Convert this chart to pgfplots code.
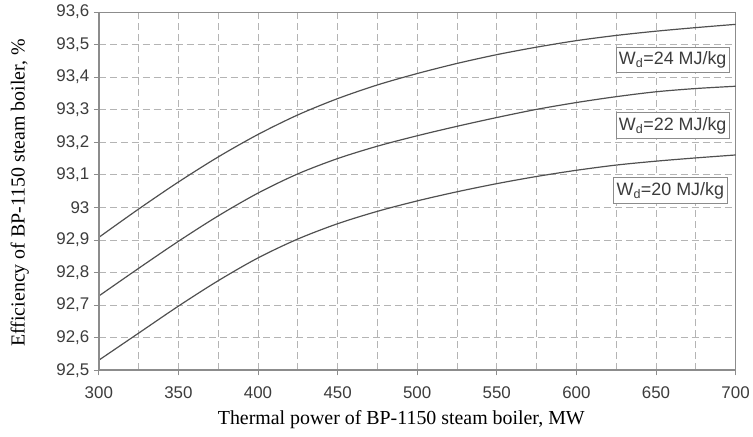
\documentclass[border=0pt]{standalone}
\usepackage{fontspec}
\setmainfont{Liberation Sans}
\newfontfamily\serifx{Liberation Serif}
\usepackage{pgfplots}
\pgfplotsset{compat=1.18}
\definecolor{gridc}{HTML}{B4B4B4}
\definecolor{axc}{HTML}{8C8C8C}
\definecolor{curvec}{HTML}{505050}
\definecolor{txtc}{HTML}{3C3C3C}
\begin{document}
\begin{tikzpicture}
\begin{axis}[
  scale only axis, width=638bp, height=359bp,
  xmin=300, xmax=700, ymin=92.5, ymax=93.6,
  xtick={300,350,400,450,500,550,600,650,700},
  minor xtick={325,375,425,475,525,575,625,675},
  ytick={92.5,92.6,92.7,92.8,92.9,93,93.1,93.2,93.3,93.4,93.5,93.6},
  yticklabels={92{,}5,92{,}6,92{,}7,92{,}8,92{,}9,93,93{,}1,93{,}2,93{,}3,93{,}4,93{,}5,93{,}6},
  xtick pos=bottom, ytick pos=left,
  tick align=outside, major tick length=5bp, minor tick length=0pt,
  every tick/.style={draw=axc, line width=0.8bp},
  grid=both,
  major grid style={draw=gridc, line width=0.9bp, dash pattern=on 7bp off 4bp},
  minor grid style={draw=gridc, line width=0.9bp, dash pattern=on 7bp off 4bp},
  axis line style={draw=axc, line width=0.8bp},
  /pgf/number format/assume math mode=true,
  tick label style={font=\fontsize{17}{20}\selectfont, text=txtc},
  xticklabel style={yshift=-8bp},
  yticklabel style={xshift=-1bp},
  xlabel={Thermal power of BP-1150 steam boiler, MW},
  ylabel={Efficiency of BP-1150 steam boiler, \%},
  label style={font=\serifx\fontsize{20}{24}\selectfont, text=black},
  xlabel style={at={(axis description cs:0.475,-0.1504)}, anchor=base},
  ylabel style={at={(axis description cs:-0.124,0.495)}, anchor=center},
  clip=false,
]
\addplot[curvec, line width=1.2bp, smooth] coordinates {
(300,92.908) (325,92.995) (350,93.078) (375,93.155) (400,93.224) (425,93.284)
(450,93.334) (475,93.376) (500,93.411) (525,93.442) (550,93.469) (575,93.492)
(600,93.512) (625,93.528) (650,93.541) (675,93.552) (700,93.562)};
\addplot[curvec, line width=1.2bp, smooth] coordinates {
(300,92.728) (325,92.813) (350,92.896) (375,92.974) (400,93.044) (425,93.103)
(450,93.150) (475,93.188) (500,93.220) (525,93.249) (550,93.276) (575,93.301)
(600,93.322) (625,93.340) (650,93.355) (675,93.365) (700,93.372)};
\addplot[curvec, line width=1.2bp, smooth] coordinates {
(300,92.531) (325,92.614) (350,92.697) (375,92.775) (400,92.845) (425,92.903)
(450,92.950) (475,92.988) (500,93.020) (525,93.048) (550,93.073) (575,93.095)
(600,93.114) (625,93.130) (650,93.142) (675,93.152) (700,93.161)};
\draw[axc, line width=1.6bp] (rel axis cs:0,1) -- (rel axis cs:0,0) -- (rel axis cs:1,0);
\tikzset{lbl/.style={draw=axc, fill=white, line width=0.8bp, inner xsep=3bp, inner ysep=4.5bp, font=\fontsize{18}{21}\selectfont, text=txtc}}
\node[lbl] at (axis cs:660.5,93.453) {W\textsubscript{d}=24 MJ/kg};
\node[lbl] at (axis cs:660.5,93.251) {W\textsubscript{d}=22 MJ/kg};
\node[lbl] at (axis cs:659,93.052) {W\textsubscript{d}=20 MJ/kg};
\coordinate (sw) at (rel axis cs:0,0);
\coordinate (ne) at (rel axis cs:1,1);
\end{axis}
\path ([xshift=-99bp,yshift=-66bp]sw) rectangle ([xshift=16bp,yshift=12bp]ne);
\end{tikzpicture}
\end{document}
